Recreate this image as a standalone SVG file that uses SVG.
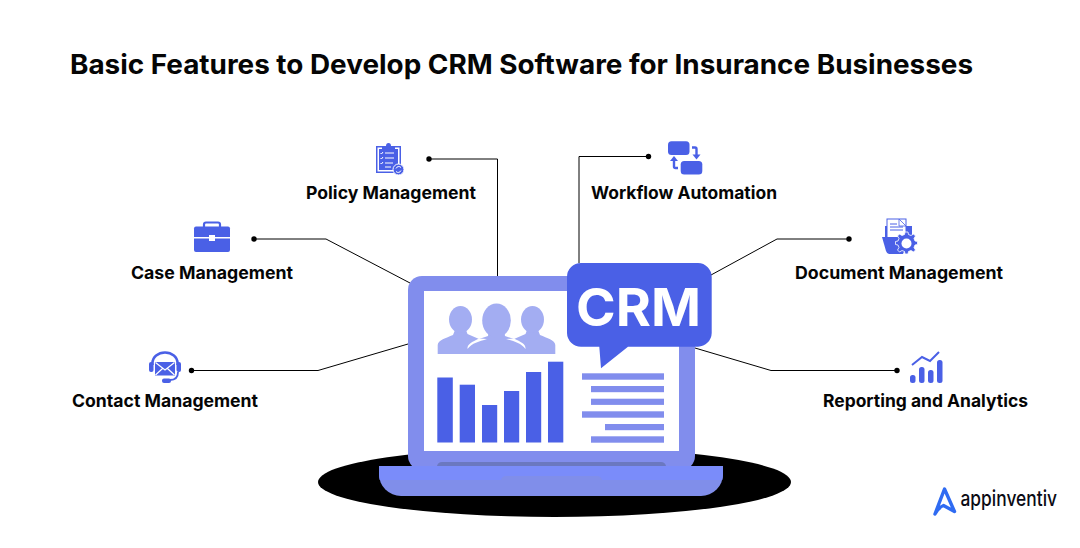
<svg xmlns="http://www.w3.org/2000/svg" width="1080" height="548" viewBox="0 0 1080 548">
<style>
.t{font-family:"Inter","Liberation Sans",sans-serif;font-weight:700;fill:#050505}
.l{font-size:17.5px}
.c{fill:none;stroke:#000;stroke-width:1}
.d{fill:#000}
.b{fill:#4a60e6}
.m{fill:#818ded}
.w{fill:#fff}
.p{fill:#a3adf2}
</style>
<rect width="1080" height="548" fill="#fff"/>
<text id="title" class="t" x="70" y="74" font-size="27" textLength="903" lengthAdjust="spacingAndGlyphs">Basic Features to Develop CRM Software for Insurance Businesses</text>
<g id="connectors">
<path class="c" d="M429 159H497.5V276"/>
<path class="c" d="M648.500 156.500H579V263"/>
<path class="c" d="M254 239H326L410 283"/>
<path class="c" d="M849 239H777L711 275"/>
<path class="c" d="M191.500 370.500H318L408 344"/>
<path class="c" d="M897 370.500H771L695 348"/>
<circle class="d" cx="429" cy="159" r="2.700"/>
<circle class="d" cx="648.500" cy="156.500" r="2.700"/>
<circle class="d" cx="254" cy="239" r="2.700"/>
<circle class="d" cx="849" cy="239" r="2.700"/>
<circle class="d" cx="191.500" cy="370.500" r="2.700"/>
<circle class="d" cx="897" cy="370.500" r="2.700"/>
</g>
<g id="crm-laptop">
<ellipse cx="554.500" cy="482" rx="236.500" ry="35" fill="#000"/>
<rect class="m" x="408" y="276" width="287" height="194" rx="14"/>
<rect class="w" x="424" y="291" width="255" height="160"/>
<path d="M437 466q1-4 5-4H661q4 0 5 4z" fill="#6b78c0"/>
<path d="M379 466H723V474A22 22 0 0 1 701 496H401A22 22 0 0 1 379 474z" fill="#808eea"/>
<path d="M379 468q0-2 2-2H721q2 0 2 2V474Q723 477 722.300 480H602q-1-4-5-4H506q-4 0-5 4H379.700Q379 477 379 474z" fill="#7a8cfa"/>
<path class="p" d="M437.700 354V345C438 340 446 338 453 335L455 330H466L467.500 334L479 339L488 336L489 330H504L505 336L514 339L525.500 334L527 330H538L540 335C547 338 555 340 555.300 345V354z"/>
<ellipse class="p" cx="460.500" cy="319.500" rx="11.500" ry="13.500"/>
<ellipse class="p" cx="532.500" cy="319.500" rx="11.500" ry="13.500"/>
<ellipse class="p" cx="496.500" cy="320.500" rx="14.300" ry="17"/>
<path class="w" d="M467.500 349C472 343 479 341.500 487 339L479 338.500C472 342 467 344 467.500 349z"/>
<path class="w" d="M525.500 349C521 343 514 341.500 506 339L514 338.500C521 342 526 344 525.500 349z"/>
<rect class="b" x="437.300" y="377.500" width="15.500" height="65"/>
<rect class="b" x="459.700" y="384.700" width="15.300" height="57.800"/>
<rect class="b" x="482" y="405" width="15.200" height="37.500"/>
<rect class="b" x="504" y="391" width="15.200" height="51.500"/>
<rect class="b" x="526" y="372" width="15.200" height="70.500"/>
<rect class="b" x="548" y="361.700" width="15.300" height="80.800"/>
<rect class="m" x="582" y="373.300" width="82" height="6.400"/>
<rect class="m" x="591" y="386" width="73" height="6.200"/>
<rect class="m" x="591" y="398.700" width="73" height="6.200"/>
<rect class="m" x="582" y="411.300" width="82" height="6.400"/>
<rect class="m" x="605" y="424" width="59" height="6.200"/>
<rect class="m" x="591" y="436.300" width="73" height="6.400"/>
<path class="b" d="M581 263H698A14 14 0 0 1 711.700 277V333A14 14 0 0 1 698 346.700H628L601 368.300L599.300 346.700H581A14 14 0 0 1 567 333V277A14 14 0 0 1 581 263z"/>
<text x="638.500" y="326" text-anchor="middle" font-family="Inter,'Liberation Sans',sans-serif" font-weight="700" font-size="52" fill="#fff" textLength="125" lengthAdjust="spacingAndGlyphs">CRM</text>
</g>
<g id="policy-management">
<rect class="b" x="376" y="146" width="25" height="27"/>
<rect class="w" x="377.500" y="147.500" width="22" height="24"/>
<rect class="b" x="379" y="149" width="19" height="21"/>
<path class="b" d="M382 146h4q0-3 2.500-3t2.500 3h4v3h-13z"/>
<path stroke="#fff" stroke-width="1" fill="none" d="M380.500 153l1 1 1.500-2M380.500 158l1 1 1.500-2M380.500 163l1 1 1.500-2M385 153h9M385 158h9M385 163h8M385 167h6"/>
<circle cx="398.500" cy="169.500" r="5.500" fill="#4a60e6" stroke="#fff" stroke-width="1"/>
<path stroke="#fff" stroke-width="1" fill="none" d="M396 168.500a3 3 0 0 1 5-1M401 170.500a3 3 0 0 1-5 1"/>
<text class="t l" x="306" y="199" textLength="170" lengthAdjust="spacingAndGlyphs">Policy Management</text>
</g>
<g id="workflow-automation">
<rect class="b" x="668" y="141.300" width="21.500" height="13.700" rx="3.500"/>
<rect class="b" x="680.700" y="161" width="21.600" height="13.400" rx="3.500"/>
<path fill="none" stroke="#4a60e6" stroke-width="2.400" d="M692 147.500h3q1.500 0 1.500 1.500v8"/>
<path class="b" d="M692.500 154.500h8l-4 5z"/>
<path fill="none" stroke="#4a60e6" stroke-width="2.400" d="M678 168h-2.500q-1.500 0-1.500-1.500v-7"/>
<path class="b" d="M670 161h8l-4-5z"/>
<text class="t l" x="591" y="199" textLength="186" lengthAdjust="spacingAndGlyphs">Workflow Automation</text>
</g>
<g id="case-management">
<path fill="none" stroke="#4a60e6" stroke-width="2.200" d="M204 227v-2.500q0-2 2-2h12q2 0 2 2v2.500"/>
<path class="b" d="M196 226.500H228q2 0 2 2V237H194V228.500q0-2 2-2z"/>
<path class="b" d="M194 238.500H209V241H215V238.500H230V250q0 2-2 2H196q-2 0-2-2z"/>
<rect class="w" x="209" y="235" width="6" height="6"/>
<text class="t l" x="131" y="279" textLength="162" lengthAdjust="spacingAndGlyphs">Case Management</text>
</g>
<g id="document-management">
<path class="b" d="M885 226h27v14h-27z"/>
<rect class="w" x="887" y="219" width="19" height="20" stroke="#4a60e6" stroke-width="1"/>
<path class="w" d="M899 219l7 7h-7z" stroke="#4a60e6" stroke-width=".8"/>
<path stroke="#4a60e6" stroke-width="1" d="M890 224h7M890 227h13M890 230h13"/>
<path class="b" d="M882 237H910L903 254H889q-2 0-3-3z"/>
<path class="b" d="M905 232h3l.5 2.500 2.500 1 2.500-1.500 2 2-1.500 2.500 1 2.500 2.500.5v3l-2.500.5-1 2.500 1.500 2.500-2 2-2.500-1.500-2.500 1-.5 2.500h-3l-.5-2.500-2.500-1-2.500 1.500-2-2 1.500-2.500-1-2.500-2.500-.5v-3l2.500-.5 1-2.500-1.500-2.500 2-2 2.500 1.500 2.500-1z" stroke="#fff" stroke-width=".8"/>
<circle class="w" cx="906.500" cy="243.500" r="5"/>
<text class="t l" x="795" y="279" textLength="208" lengthAdjust="spacingAndGlyphs">Document Management</text>
</g>
<g id="contact-management">
<path fill="none" stroke="#4a60e6" stroke-width="2.500" d="M152.500 365v-2a12.500 10.500 0 0 1 25 0v2"/>
<rect class="b" x="149" y="362" width="4.500" height="10" rx="2"/>
<rect class="b" x="176.500" y="362" width="4.500" height="10" rx="2"/>
<path fill="none" stroke="#4a60e6" stroke-width="1.800" d="M178 372q0 8-8 8"/>
<rect class="b" x="162" y="378.500" width="9" height="4.500" rx="2"/>
<rect class="b" x="155" y="362" width="20" height="13.500"/>
<path fill="none" stroke="#fff" stroke-width="1.200" d="M155.500 362.500L165 370l9.500-7.500M155.500 375l7-6.500M174.500 375l-7-6.500"/>
<text class="t l" x="72" y="407" textLength="186" lengthAdjust="spacingAndGlyphs">Contact Management</text>
</g>
<g id="reporting-and-analytics">
<path fill="none" stroke="#4a60e6" stroke-width="2" d="M912 365L922 357L930 361L939 352"/>
<rect class="b" x="910" y="375" width="5.500" height="8" rx="2.500"/>
<rect class="b" x="919" y="367" width="5.500" height="16" rx="2.500"/>
<rect class="b" x="928" y="370" width="5.500" height="13" rx="2.500"/>
<rect class="b" x="937" y="360" width="5.500" height="23" rx="2.500"/>
<text class="t l" x="823" y="407" textLength="205" lengthAdjust="spacingAndGlyphs">Reporting and Analytics</text>
</g>
<g id="logo">
<path fill="none" stroke="#2f6bf2" stroke-width="3.400" stroke-linejoin="round" stroke-linecap="round" d="M935 514L944.500 489L954.500 511.500L943.500 505.500Q939 507 935 514"/>
<text x="960.500" y="506" font-family="Inter,'Liberation Sans',sans-serif" font-weight="500" font-size="21" fill="#0b0b14" textLength="96.500" lengthAdjust="spacingAndGlyphs">appinventiv</text>
</g>
</svg>
